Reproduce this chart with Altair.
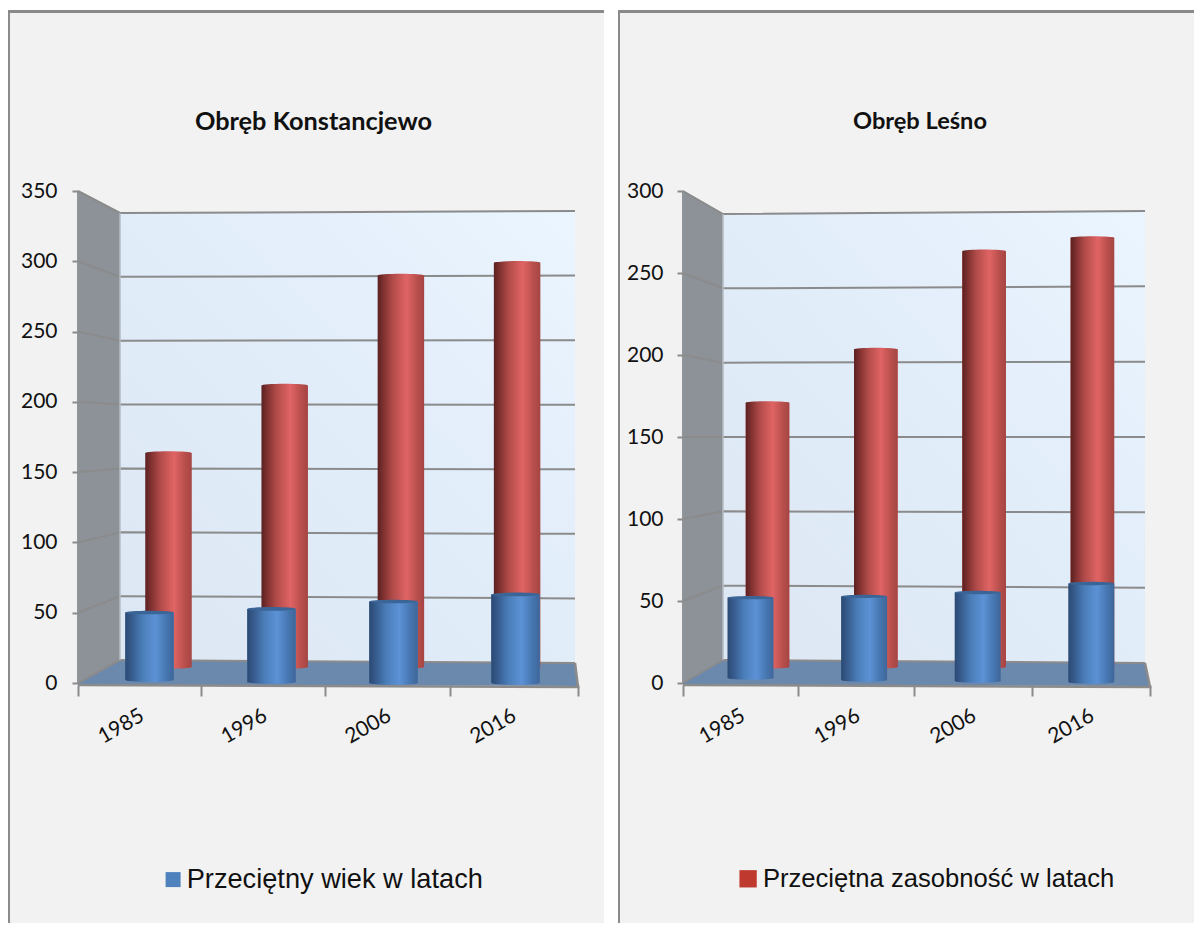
import altair as alt
import pandas as pd

YEARS = ["1985", "1996", "2006", "2016"]
WIEK_K = [48, 52, 58, 63]          # Konstancjewo, blue
ZAS_K = [162, 215, 301, 311]       # Konstancjewo, red
WIEK_L = [49, 51, 54, 60]          # Lesno, blue
ZAS_L = [173, 209, 275, 284]       # Lesno, red

BLUE_STOPS = [(0, "#2b4a74"), (0.12, "#35598a"), (0.35, "#4a7db8"), (0.62, "#5c92d6"), (0.85, "#4676b0"), (1, "#3f6699")]
RED_STOPS = [(0, "#5a2121"), (0.12, "#7e302f"), (0.32, "#b04b49"), (0.62, "#e06464"), (0.85, "#b84f4c"), (1, "#a54543")]
BLUE_TOP = "#3c6597"
GRID = "#8b8b8b"
CANVAS_W = 1186
CANVAS_H = 915
PAGE = 8


def grad(stops):
    return {"gradient": "linear", "x1": 0, "x2": 1, "y1": 0, "y2": 0,
            "stops": [{"offset": o, "color": c} for o, c in stops]}


ELLIPSE = "M-1,0 A1,0.075 0 1 1 1,0 A1,0.075 0 1 1 -1,0 Z"


def panel(title, series, swatch, blue, red, cfg):
    px0, pw = cfg["px0"] - PAGE, cfg["w"]   # panel left edge and width, inside the canvas
    ax = cfg["ax_px"]
    front0, k = 683.0, cfg["k"]
    top_px, bot_px = PAGE, PAGE + CANVAS_H
    fdom = [(front0 - bot_px) / k, (front0 - top_px) / k]
    bdom = [(cfg["b0"] - bot_px) / cfg["bk"], (cfg["b0"] - top_px) / cfg["bk"]]
    xs = alt.Scale(domain=[PAGE - ax, PAGE - ax + CANVAS_W], nice=False, zero=False)
    fs = alt.Scale(domain=fdom, nice=False, zero=False)
    bs = alt.Scale(domain=bdom, nice=False, zero=False)
    labels = "['1985','1996','2006','2016',''][indexof(%s,datum.value)]" % str(cfg["ticks"])
    x_axis = alt.Axis(
        values=cfg["ticks"], labelExpr=labels, orient="bottom", offset=-(bot_px - 685), zindex=1,
        domain=False, grid=False, tickSize=11, tickWidth=2, tickColor=GRID,
        labelAngle=-30, labelAlign="right", labelBaseline="middle",
        labelOffset=cfg["lab_off"], labelPadding=cfg["lab_y"], labelFont="Lato", labelFontSize=21,
        labelColor="#111111", labelOverlap=False, labelBound=False, labelFlush=False)
    X = lambda f="x:Q": alt.X(f, scale=xs, axis=None, title=None)
    Y = lambda f="y:Q", s=fs: alt.Y(f, scale=s, axis=None, title=None)
    f_u = lambda px: (front0 - px) / k            # perspective depth mapping on the front scale
    levels = cfg["levels"]
    wl, wr, fr = cfg["wall_x"], cfg["wall_r"], cfg["floor_r"]
    top_level = levels[-1]
    bl = lambda v: f_u(cfg["b0"] - cfg["bk"] * v)
    br = lambda v: f_u(cfg["r0"] - cfg["rk"] * v)

    bg = alt.Chart(pd.DataFrame({"a": [0]})).mark_rect(color="#f2f2f2").encode(
        x=alt.value(px0), x2=alt.value(px0 + pw), y=alt.value(2), y2=alt.value(CANVAS_H))

    side = pd.DataFrame({"x": [0, wl], "y": [top_level, bl(top_level)], "y0": [0, bl(0)]})
    side_l = alt.Chart(side).mark_area(color="#8c9298").encode(
        x=alt.X("x:Q", scale=xs, title=None, axis=x_axis),
        y=alt.Y("y:Q", scale=fs, title=None, axis=alt.Axis(
            values=levels, orient="left", offset=-(ax - PAGE), zindex=1,
            domain=False, grid=False, tickSize=6, tickWidth=2, tickColor=GRID,
            labelPadding=cfg["lab_pad"], labelFont="Lato", labelFontSize=21,
            labelColor="#111111", labelOverlap=False)),
        y2="y0:Q")

    back = pd.DataFrame({"x": [wl, wr], "y": [bl(top_level), br(top_level)], "y0": [bl(0), br(0)]})
    back_l = alt.Chart(back).mark_area(color={
        "gradient": "linear", "x1": 0, "y1": 1, "x2": 1, "y2": 0,
        "stops": [{"offset": 0, "color": "#dde7f4"}, {"offset": 0.55, "color": "#e2edfa"},
                  {"offset": 1, "color": "#ebf5ff"}]}).encode(x=X(), y=Y(), y2="y0:Q")

    flo = pd.DataFrame({"x": [0, wl, wr, fr],
                        "y": [f_u(683), bl(0), br(0), f_u(686)],
                        "y0": [f_u(684.5), f_u(685), f_u(686), f_u(686)]})
    floor_l = alt.Chart(flo).mark_area(color="#6b88ad").encode(x=X(), y=Y(), y2="y0:Q")

    rows = []
    for v in levels:
        rows += [{"v": v, "x": 0, "y": v}, {"v": v, "x": wl, "y": bl(v)}, {"v": v, "x": wr, "y": br(v)}]
    grid_l = alt.Chart(pd.DataFrame(rows)).mark_line(color=GRID, strokeWidth=2).encode(
        x=X(), y=Y(), detail="v:Q")

    edge_l = alt.Chart(pd.DataFrame({"x": [wl, wl], "y": [bl(top_level), bl(0)]})).mark_line(
        color="#b5bcc5", strokeWidth=1.5).encode(x=X(), y=Y())
    left_edge = alt.Chart(pd.DataFrame({"x": [0, 0], "y": [top_level, 0]})).mark_line(
        color="#8f9499", strokeWidth=2).encode(x=X(), y=Y())
    base_edge = alt.Chart(pd.DataFrame({"x": [0, fr, wr], "y": [f_u(685), f_u(687), br(0)], "o": [0, 1, 2]})).mark_line(
        color=GRID, strokeWidth=2.5).encode(x=X(), y=Y(), order="o:Q")

    def df(vals, c0, dc, bw, base):
        rows = []
        for i, (yr, v) in enumerate(zip(YEARS, vals)):
            c = c0 + dc * i
            rows.append({"year": yr, "x": c - bw / 2 - ax, "x2": c + bw / 2 - ax,
                         "xc": c - ax, "v": v, "base": base(i), "top": base(i) + v,
                         "series": series})
        return pd.DataFrame(rows)

    rd = df(red, cfg["rc0"], cfg["rdc"], cfg["rw"], lambda i: (cfg["b0"] - 667) / cfg["bk"])
    rd["top"] = rd["v"]
    bd = df(blue, cfg["bc0"], cfg["bdc"], cfg["bw"], lambda i: (front0 - cfg["bbase"][i]) / k)

    sz_r = cfg["rw"] ** 2
    sz_b = cfg["bw"] ** 2
    red_bar = alt.Chart(rd).mark_rect(color=grad(RED_STOPS)).encode(
        x=X(), x2="x2:Q", y=Y("top:Q", bs), y2="base:Q")
    red_cap = alt.Chart(rd).mark_point(shape=ELLIPSE, filled=True, opacity=1, size=sz_r, fill=grad(RED_STOPS)).encode(
        x=X("xc:Q"), y=Y("top:Q", bs))
    red_bot = alt.Chart(rd).mark_point(shape=ELLIPSE, filled=True, opacity=1, size=sz_r, fill=grad(RED_STOPS)).encode(
        x=X("xc:Q"), y=Y("base:Q", bs))
    leg = alt.Legend(orient="none", legendX=cfg["legx"], legendY=cfg["legy"], title=None, symbolType="square",
                     symbolSize=cfg["legs"], symbolStrokeWidth=0, symbolOpacity=1, labelFont="Liberation Sans",
                     labelFontSize=cfg["legf"], labelColor="#111111", labelLimit=500, labelOffset=cfg["lego"])
    col = alt.Color("series:N", scale=alt.Scale(domain=[series], range=[swatch]), legend=leg)
    if cfg["legend_on"] == "red":
        flat = alt.Chart(rd).mark_rect(opacity=1).encode(x=X(), x2="x2:Q", y=Y("top:Q", bs), y2="base:Q", color=col)
    else:
        flat = alt.Chart(bd).mark_rect(opacity=1).encode(x=X(), x2="x2:Q", y=Y("top:Q"), y2="base:Q", color=col)

    blue_bar = alt.Chart(bd).mark_rect(color=grad(BLUE_STOPS)).encode(
        x=X(), x2="x2:Q", y=Y("top:Q"), y2="base:Q")
    blue_bot = alt.Chart(bd).mark_point(shape=ELLIPSE, filled=True, opacity=1, size=sz_b, fill=grad(BLUE_STOPS)).encode(
        x=X("xc:Q"), y=Y("base:Q"))
    blue_cap = alt.Chart(bd).mark_point(shape=ELLIPSE, filled=True, opacity=1, size=sz_b, fill=BLUE_TOP).encode(
        x=X("xc:Q"), y=Y("top:Q"))

    border_top = alt.Chart(pd.DataFrame({"a": [0]})).mark_rule(color="#8a8a8a", strokeWidth=3).encode(
        x=alt.value(px0), x2=alt.value(px0 + pw), y=alt.value(3.5))
    border_left = alt.Chart(pd.DataFrame({"a": [0]})).mark_rule(color="#8a8a8a", strokeWidth=2).encode(
        x=alt.value(px0 + 1), y=alt.value(2), y2=alt.value(CANVAS_H))
    title_l = alt.Chart(pd.DataFrame({"t": [title]})).mark_text(
        font="Lato", fontSize=cfg["title_size"], fontWeight="bold", color="#111111", baseline="middle").encode(
        x=alt.value(cfg["title_x"] - PAGE), y=alt.value(114), text="t:N")

    layers = [bg, side_l, back_l, floor_l, grid_l, edge_l, left_edge, base_edge]
    if cfg["legend_on"] == "red":
        layers += [flat, red_bot, red_bar, red_cap, blue_bot, blue_bar, blue_cap]
    else:
        layers += [red_bot, red_bar, red_cap, flat, blue_bot, blue_bar, blue_cap]
    layers += [border_top, border_left, title_l]
    return layers


CFG_K = dict(px0=8, ax_px=78, w=596, k=492 / 350, b0=660.0, bk=447 / 350, r0=663.0, rk=452 / 350,
             levels=[0, 50, 100, 150, 200, 250, 300, 350], ticks=[0, 123, 247, 372, 500], wall_x=42, wall_r=497,
             floor_r=500, lab_off=64, lab_y=18, lab_pad=15, bc0=149.5, bdc=122, bw=48.5, rc0=168.5, rdc=116.2, rw=46.5,
             bbase=[680, 682, 683, 683], legend_on="blue", legx=151.5, legy=858, legs=225, legf=27.2, lego=0,
             title_size=25.3, title_x=313.5)
CFG_L = dict(px0=618, ax_px=683, w=576, k=492 / 300, b0=660.0, bk=446 / 300, r0=663.0, rk=452 / 300,
             levels=[0, 50, 100, 150, 200, 250, 300], ticks=[0, 115, 231, 349, 467], wall_x=40, wall_r=462,
             floor_r=467, lab_off=60, lab_y=18, lab_pad=14, bc0=750.5, bdc=113.6, bw=46, rc0=767.5, rdc=108.3, rw=43.5,
             bbase=[678, 680, 681, 682], legend_on="red", legx=727.3, legy=858, legs=300, legf=25.6, lego=2,
             title_size=23.6, title_x=920)

layers = (panel("Obręb Konstancjewo", "Przeciętny wiek w latach", "#4f81bd", WIEK_K, ZAS_K, CFG_K)
          + panel("Obręb Leśno", "Przeciętna zasobność w latach", "#c0392f", WIEK_L, ZAS_L, CFG_L))

chart = (alt.layer(*layers)
         .resolve_scale(x="independent", y="independent", color="independent")
         .properties(width=CANVAS_W, height=CANVAS_H, padding=0, background="#ffffff",
                     autosize=alt.AutoSizeParams(type="none", contains="padding"))
         .configure_view(stroke=None, fill="#ffffff"))

chart.save("out.html", embed_options={"renderer": "svg", "actions": False})
